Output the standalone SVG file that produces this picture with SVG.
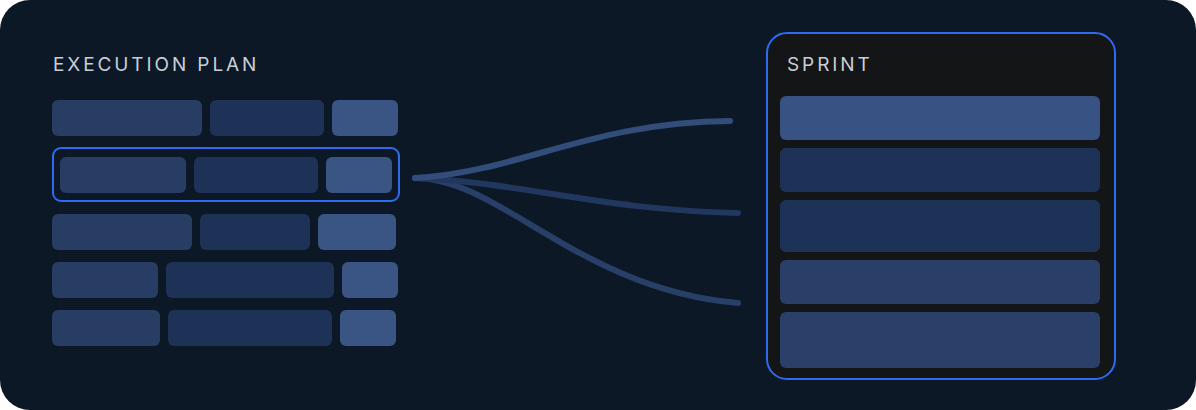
<svg xmlns="http://www.w3.org/2000/svg" width="1196" height="410" viewBox="0 0 1196 410">
  <style>
    .title { font-family: Inter, "Liberation Sans", sans-serif; font-size: 19px; fill: #c9ced6; letter-spacing: 2.9px; }
    .a { fill: #283d63; }
    .b { fill: #1e3156; }
    .c { fill: #3a5584; }
    .conn { fill: none; stroke-width: 6; stroke-linecap: round; }
  </style>
  <rect x="0" y="0" width="1196" height="410" rx="30" fill="#0c1826"/>

  <g id="plan">
    <text class="title" x="53" y="71">EXECUTION PLAN</text>
    <g id="row1">
      <rect class="a" x="52" y="100" width="150" height="36" rx="6"/>
      <rect class="b" x="210" y="100" width="114" height="36" rx="6"/>
      <rect class="c" x="332" y="100" width="66" height="36" rx="6"/>
    </g>
    <g id="row2">
      <rect x="53" y="148" width="346" height="53" rx="8" fill="none" stroke="#2f6bf0" stroke-width="2"/>
      <rect class="a" x="60" y="157" width="126" height="36" rx="6"/>
      <rect class="b" x="194" y="157" width="124" height="36" rx="6"/>
      <rect class="c" x="326" y="157" width="66" height="36" rx="6"/>
    </g>
    <g id="row3">
      <rect class="a" x="52" y="214" width="140" height="36" rx="6"/>
      <rect class="b" x="200" y="214" width="110" height="36" rx="6"/>
      <rect class="c" x="318" y="214" width="78" height="36" rx="6"/>
    </g>
    <g id="row4">
      <rect class="a" x="52" y="262" width="106" height="36" rx="6"/>
      <rect class="b" x="166" y="262" width="168" height="36" rx="6"/>
      <rect class="c" x="342" y="262" width="56" height="36" rx="6"/>
    </g>
    <g id="row5">
      <rect class="a" x="52" y="310" width="108" height="36" rx="6"/>
      <rect class="b" x="168" y="310" width="164" height="36" rx="6"/>
      <rect class="c" x="340" y="310" width="56" height="36" rx="6"/>
    </g>
  </g>

  <g id="connectors">
    <path class="conn" stroke="#283f68" d="M415 178 C 500 178, 580 290, 738 303"/>
    <path class="conn" stroke="#21375e" d="M415 178 C 520 182, 600 210, 738 213"/>
    <path class="conn" stroke="#324d7a" d="M415 178 C 520 172, 590 122, 730 121"/>
  </g>

  <g id="sprint">
    <rect x="767" y="33" width="348" height="346" rx="20" fill="#131517" stroke="#2f6bf0" stroke-width="2"/>
    <text class="title" x="787" y="71">SPRINT</text>
    <rect x="780" y="96" width="320" height="44" rx="6" fill="#385383"/>
    <rect x="780" y="148" width="320" height="44" rx="6" fill="#1e3257"/>
    <rect x="780" y="200" width="320" height="52" rx="6" fill="#1d3257"/>
    <rect x="780" y="260" width="320" height="44" rx="6" fill="#293f67"/>
    <rect x="780" y="312" width="320" height="56" rx="6" fill="#2a4069"/>
  </g>
</svg>
